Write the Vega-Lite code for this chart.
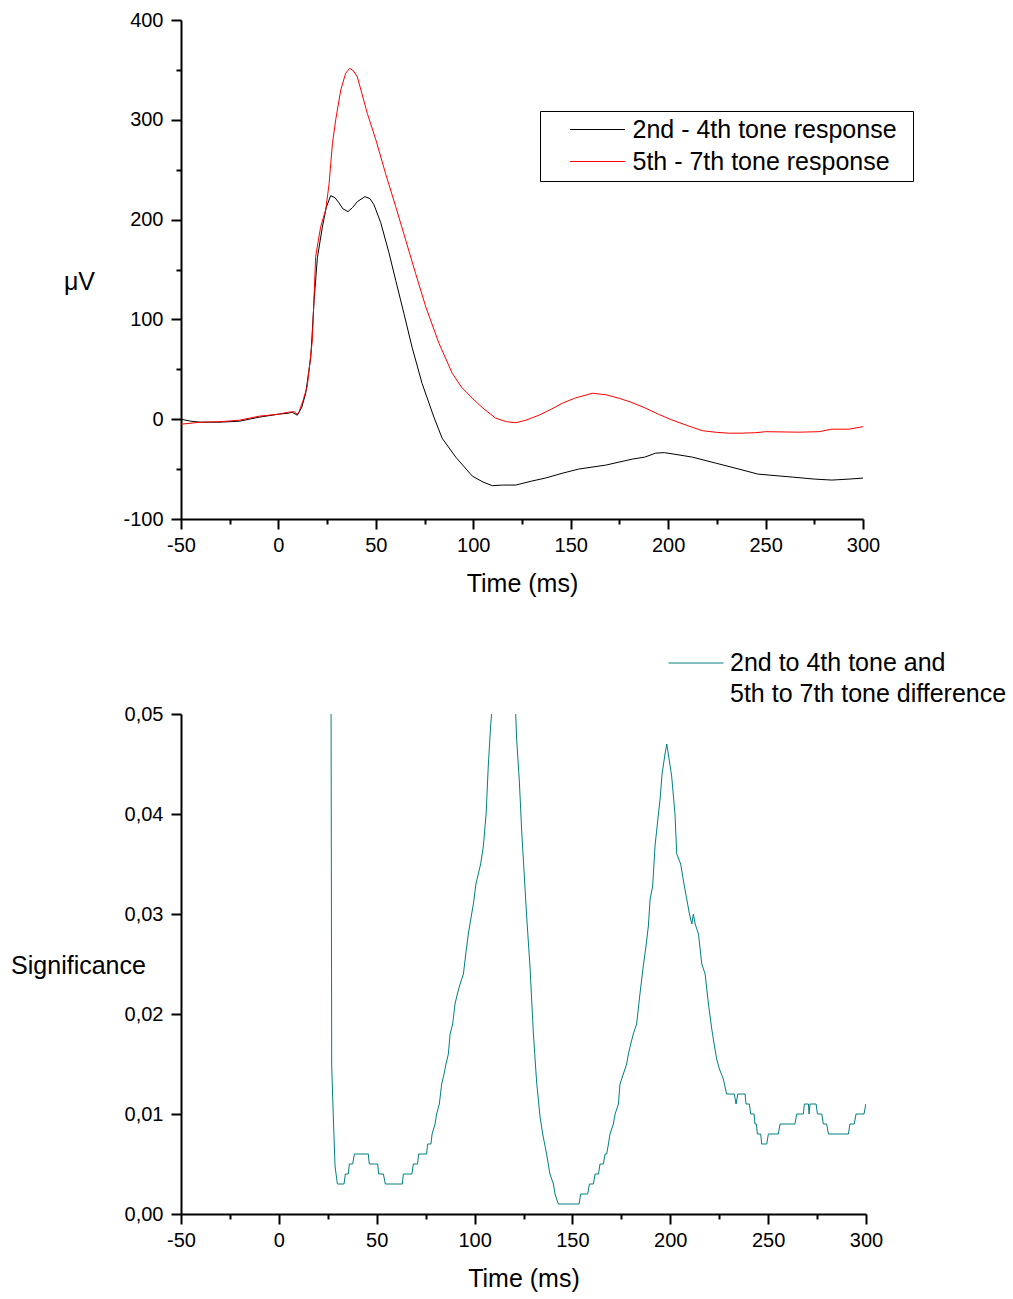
{
  "$schema": "https://vega.github.io/schema/vega-lite/v6.json",
  "padding": {"left": 10, "top": 10, "right": 5, "bottom": 5},
  "spacing": 39,
  "resolve": {"scale": {"color": "independent"}, "legend": {"color": "independent"}},
  "config": {
    "view": {"stroke": null},
    "font": "Liberation Sans",
    "axis": {"domainColor": "#000", "domainWidth": 2, "tickColor": "#000", "tickWidth": 2, "labelColor": "#000", "labelFontSize": 20, "labelFont": "Liberation Sans", "titleColor": "#000", "titleFontSize": 25, "titleFont": "Liberation Sans", "titleFontWeight": "normal", "grid": false, "labelFlush": false, "labelOverlap": false},
    "legend": {"labelFont": "Liberation Sans", "labelFontSize": 25, "labelColor": "#000"},
    "style": {"guide-label": {"lineHeight": 31}}
  },
  "vconcat": [
    {
      "width": 682,
      "height": 499,
      "data": {"values": [
        {"t": -50, "v": 0, "s": "2nd - 4th tone response"},
        {"t": -45, "v": -2, "s": "2nd - 4th tone response"},
        {"t": -40, "v": -3, "s": "2nd - 4th tone response"},
        {"t": -30, "v": -3, "s": "2nd - 4th tone response"},
        {"t": -20, "v": -2, "s": "2nd - 4th tone response"},
        {"t": -10, "v": 2, "s": "2nd - 4th tone response"},
        {"t": 0, "v": 5, "s": "2nd - 4th tone response"},
        {"t": 5, "v": 6, "s": "2nd - 4th tone response"},
        {"t": 7, "v": 7, "s": "2nd - 4th tone response"},
        {"t": 9.7, "v": 4, "s": "2nd - 4th tone response"},
        {"t": 12, "v": 12, "s": "2nd - 4th tone response"},
        {"t": 14, "v": 26, "s": "2nd - 4th tone response"},
        {"t": 16.6, "v": 62, "s": "2nd - 4th tone response"},
        {"t": 18.3, "v": 119, "s": "2nd - 4th tone response"},
        {"t": 20, "v": 162, "s": "2nd - 4th tone response"},
        {"t": 22.5, "v": 192, "s": "2nd - 4th tone response"},
        {"t": 24.5, "v": 212, "s": "2nd - 4th tone response"},
        {"t": 26.8, "v": 224, "s": "2nd - 4th tone response"},
        {"t": 29, "v": 222, "s": "2nd - 4th tone response"},
        {"t": 31, "v": 217, "s": "2nd - 4th tone response"},
        {"t": 33, "v": 211, "s": "2nd - 4th tone response"},
        {"t": 35.7, "v": 208, "s": "2nd - 4th tone response"},
        {"t": 38, "v": 212, "s": "2nd - 4th tone response"},
        {"t": 40.5, "v": 218, "s": "2nd - 4th tone response"},
        {"t": 44.4, "v": 223, "s": "2nd - 4th tone response"},
        {"t": 47, "v": 221, "s": "2nd - 4th tone response"},
        {"t": 49, "v": 215, "s": "2nd - 4th tone response"},
        {"t": 52.5, "v": 197, "s": "2nd - 4th tone response"},
        {"t": 56.7, "v": 167, "s": "2nd - 4th tone response"},
        {"t": 60.2, "v": 139, "s": "2nd - 4th tone response"},
        {"t": 64.4, "v": 106, "s": "2nd - 4th tone response"},
        {"t": 68.6, "v": 72, "s": "2nd - 4th tone response"},
        {"t": 73.7, "v": 36, "s": "2nd - 4th tone response"},
        {"t": 79.8, "v": 2, "s": "2nd - 4th tone response"},
        {"t": 84, "v": -19, "s": "2nd - 4th tone response"},
        {"t": 91, "v": -38, "s": "2nd - 4th tone response"},
        {"t": 99.5, "v": -57, "s": "2nd - 4th tone response"},
        {"t": 105, "v": -63, "s": "2nd - 4th tone response"},
        {"t": 109.8, "v": -66.6, "s": "2nd - 4th tone response"},
        {"t": 115, "v": -66, "s": "2nd - 4th tone response"},
        {"t": 121.8, "v": -66, "s": "2nd - 4th tone response"},
        {"t": 130, "v": -62, "s": "2nd - 4th tone response"},
        {"t": 137, "v": -59, "s": "2nd - 4th tone response"},
        {"t": 146, "v": -54, "s": "2nd - 4th tone response"},
        {"t": 154, "v": -50, "s": "2nd - 4th tone response"},
        {"t": 168, "v": -46, "s": "2nd - 4th tone response"},
        {"t": 181.6, "v": -40, "s": "2nd - 4th tone response"},
        {"t": 188, "v": -38, "s": "2nd - 4th tone response"},
        {"t": 193.6, "v": -34, "s": "2nd - 4th tone response"},
        {"t": 198, "v": -33.5, "s": "2nd - 4th tone response"},
        {"t": 203, "v": -35, "s": "2nd - 4th tone response"},
        {"t": 212.4, "v": -38, "s": "2nd - 4th tone response"},
        {"t": 224.4, "v": -44, "s": "2nd - 4th tone response"},
        {"t": 236.4, "v": -50, "s": "2nd - 4th tone response"},
        {"t": 246, "v": -55, "s": "2nd - 4th tone response"},
        {"t": 263.7, "v": -58, "s": "2nd - 4th tone response"},
        {"t": 275, "v": -60, "s": "2nd - 4th tone response"},
        {"t": 284, "v": -61, "s": "2nd - 4th tone response"},
        {"t": 292.8, "v": -60, "s": "2nd - 4th tone response"},
        {"t": 300, "v": -59, "s": "2nd - 4th tone response"},
        {"t": -50, "v": -5, "s": "5th - 7th tone response"},
        {"t": -40, "v": -3, "s": "5th - 7th tone response"},
        {"t": -30, "v": -2.5, "s": "5th - 7th tone response"},
        {"t": -20, "v": -1, "s": "5th - 7th tone response"},
        {"t": -10, "v": 3, "s": "5th - 7th tone response"},
        {"t": 0, "v": 5, "s": "5th - 7th tone response"},
        {"t": 5, "v": 7, "s": "5th - 7th tone response"},
        {"t": 8, "v": 7.5, "s": "5th - 7th tone response"},
        {"t": 9.7, "v": 5, "s": "5th - 7th tone response"},
        {"t": 10.6, "v": 7.5, "s": "5th - 7th tone response"},
        {"t": 12.5, "v": 18, "s": "5th - 7th tone response"},
        {"t": 14.8, "v": 33, "s": "5th - 7th tone response"},
        {"t": 17.4, "v": 79, "s": "5th - 7th tone response"},
        {"t": 19.1, "v": 163, "s": "5th - 7th tone response"},
        {"t": 21.7, "v": 193, "s": "5th - 7th tone response"},
        {"t": 24.3, "v": 210, "s": "5th - 7th tone response"},
        {"t": 26, "v": 236, "s": "5th - 7th tone response"},
        {"t": 27.7, "v": 276, "s": "5th - 7th tone response"},
        {"t": 29.4, "v": 300, "s": "5th - 7th tone response"},
        {"t": 32, "v": 330, "s": "5th - 7th tone response"},
        {"t": 34.5, "v": 346.6, "s": "5th - 7th tone response"},
        {"t": 36.6, "v": 351.6, "s": "5th - 7th tone response"},
        {"t": 38.5, "v": 349, "s": "5th - 7th tone response"},
        {"t": 40.5, "v": 343, "s": "5th - 7th tone response"},
        {"t": 45.6, "v": 306.5, "s": "5th - 7th tone response"},
        {"t": 50, "v": 280, "s": "5th - 7th tone response"},
        {"t": 55, "v": 246, "s": "5th - 7th tone response"},
        {"t": 60.2, "v": 213, "s": "5th - 7th tone response"},
        {"t": 65.3, "v": 179.6, "s": "5th - 7th tone response"},
        {"t": 70.4, "v": 146, "s": "5th - 7th tone response"},
        {"t": 75.6, "v": 112.7, "s": "5th - 7th tone response"},
        {"t": 82.4, "v": 76, "s": "5th - 7th tone response"},
        {"t": 89.2, "v": 46, "s": "5th - 7th tone response"},
        {"t": 94, "v": 32, "s": "5th - 7th tone response"},
        {"t": 99.5, "v": 21, "s": "5th - 7th tone response"},
        {"t": 105, "v": 11, "s": "5th - 7th tone response"},
        {"t": 111.5, "v": 1, "s": "5th - 7th tone response"},
        {"t": 117, "v": -2.5, "s": "5th - 7th tone response"},
        {"t": 121.8, "v": -3.5, "s": "5th - 7th tone response"},
        {"t": 127, "v": -1, "s": "5th - 7th tone response"},
        {"t": 133.7, "v": 4, "s": "5th - 7th tone response"},
        {"t": 140, "v": 10, "s": "5th - 7th tone response"},
        {"t": 145.7, "v": 16, "s": "5th - 7th tone response"},
        {"t": 152, "v": 21, "s": "5th - 7th tone response"},
        {"t": 161, "v": 26, "s": "5th - 7th tone response"},
        {"t": 168, "v": 24.5, "s": "5th - 7th tone response"},
        {"t": 174.8, "v": 21, "s": "5th - 7th tone response"},
        {"t": 181, "v": 17, "s": "5th - 7th tone response"},
        {"t": 188.5, "v": 11, "s": "5th - 7th tone response"},
        {"t": 195, "v": 5, "s": "5th - 7th tone response"},
        {"t": 202, "v": -0.8, "s": "5th - 7th tone response"},
        {"t": 210, "v": -6.5, "s": "5th - 7th tone response"},
        {"t": 217.5, "v": -11.5, "s": "5th - 7th tone response"},
        {"t": 224, "v": -13, "s": "5th - 7th tone response"},
        {"t": 231, "v": -14, "s": "5th - 7th tone response"},
        {"t": 238, "v": -14, "s": "5th - 7th tone response"},
        {"t": 245, "v": -13.5, "s": "5th - 7th tone response"},
        {"t": 250, "v": -12.5, "s": "5th - 7th tone response"},
        {"t": 267, "v": -13, "s": "5th - 7th tone response"},
        {"t": 277.4, "v": -12.5, "s": "5th - 7th tone response"},
        {"t": 284, "v": -10, "s": "5th - 7th tone response"},
        {"t": 292.8, "v": -10, "s": "5th - 7th tone response"},
        {"t": 300, "v": -7.5, "s": "5th - 7th tone response"}
      ]},
      "mark": {"type": "line", "strokeWidth": 1},
      "encoding": {
        "x": {"field": "t", "type": "quantitative", "scale": {"domain": [-50, 300], "nice": false, "zero": false},
          "axis": {"values": [-50, -25, 0, 25, 50, 75, 100, 125, 150, 175, 200, 225, 250, 275, 300],
            "labelExpr": "datum.value % 50 === 0 ? '' + datum.value : ''",
            "tickSize": {"condition": {"test": "datum.value % 50 !== 0", "value": 5}, "value": 10},
            "title": "Time (ms)", "labelPadding": 6, "titlePadding": 16}},
        "y": {"field": "v", "type": "quantitative", "scale": {"domain": [-100, 400], "nice": false, "zero": false},
          "axis": {"values": [-100, -50, 0, 50, 100, 150, 200, 250, 300, 350, 400],
            "labelExpr": "datum.value % 100 === 0 ? '' + datum.value : ''",
            "tickSize": {"condition": {"test": "datum.value % 100 !== 0", "value": 5}, "value": 10},
            "title": "μV", "titleAngle": 0, "titleX": -102, "titleY": 261, "titleAlign": "center", "titleBaseline": "middle", "labelPadding": 8}},
        "color": {"field": "s", "type": "nominal",
          "scale": {"domain": ["2nd - 4th tone response", "5th - 7th tone response"], "range": ["#000000", "#ff0000"]},
          "legend": {"title": null, "orient": "none", "legendX": 359, "legendY": 91, "symbolType": "M0,0H11M67,0", "symbolSize": 100, "symbolStrokeWidth": 1, "padding": 6, "strokeColor": "#000", "symbolOffset": 11.5, "labelOffset": 50, "rowPadding": 6, "labelLimit": 500}}
      }
    },
    {
      "width": 685,
      "height": 500,
      "data": {"values": [
        {"t": 26.5, "p": 0.07}, {"t": 27.0, "p": 0.0148}, {"t": 27.8, "p": 0.0098}, {"t": 28.7, "p": 0.0048},
        {"t": 29.9, "p": 0.003}, {"t": 33.3, "p": 0.003}, {"t": 34.0, "p": 0.004}, {"t": 35.5, "p": 0.004},
        {"t": 36.0, "p": 0.005}, {"t": 37.7, "p": 0.005}, {"t": 38.6, "p": 0.006}, {"t": 45.7, "p": 0.006},
        {"t": 46.2, "p": 0.005}, {"t": 50.5, "p": 0.005}, {"t": 51.0, "p": 0.004}, {"t": 53.4, "p": 0.004},
        {"t": 54.4, "p": 0.003}, {"t": 63.1, "p": 0.003}, {"t": 63.6, "p": 0.004}, {"t": 68.0, "p": 0.004},
        {"t": 68.7, "p": 0.005}, {"t": 70.9, "p": 0.005}, {"t": 71.4, "p": 0.006}, {"t": 75.5, "p": 0.006},
        {"t": 76.0, "p": 0.007}, {"t": 77.7, "p": 0.007}, {"t": 78.3, "p": 0.008}, {"t": 79.8, "p": 0.009},
        {"t": 80.6, "p": 0.010}, {"t": 82.0, "p": 0.011}, {"t": 83.2, "p": 0.013}, {"t": 84.4, "p": 0.014},
        {"t": 85.4, "p": 0.015}, {"t": 86.6, "p": 0.016}, {"t": 87.5, "p": 0.018}, {"t": 88.8, "p": 0.019},
        {"t": 90.0, "p": 0.021}, {"t": 91.2, "p": 0.022}, {"t": 92.6, "p": 0.023}, {"t": 94.3, "p": 0.024},
        {"t": 95.5, "p": 0.026}, {"t": 96.8, "p": 0.028}, {"t": 98.5, "p": 0.030}, {"t": 99.4, "p": 0.031},
        {"t": 100.7, "p": 0.033}, {"t": 101.9, "p": 0.034}, {"t": 103.1, "p": 0.035}, {"t": 104.5, "p": 0.0368},
        {"t": 105.9, "p": 0.040}, {"t": 107.0, "p": 0.0448}, {"t": 108.2, "p": 0.0488}, {"t": 109.3, "p": 0.0515},
        {"t": 115.0, "p": 0.065}, {"t": 120.7, "p": 0.0515}, {"t": 121.5, "p": 0.0475}, {"t": 122.9, "p": 0.0432},
        {"t": 124.1, "p": 0.0382}, {"t": 125.3, "p": 0.0342}, {"t": 126.6, "p": 0.0298}, {"t": 128.3, "p": 0.0248},
        {"t": 130.0, "p": 0.0182}, {"t": 131.7, "p": 0.0132}, {"t": 133.4, "p": 0.0098}, {"t": 134.8, "p": 0.008},
        {"t": 136.8, "p": 0.006}, {"t": 138.5, "p": 0.004}, {"t": 140.3, "p": 0.003}, {"t": 141.1, "p": 0.002},
        {"t": 142.8, "p": 0.001}, {"t": 153.4, "p": 0.001}, {"t": 154.2, "p": 0.002}, {"t": 157.8, "p": 0.002},
        {"t": 158.7, "p": 0.003}, {"t": 160.7, "p": 0.003}, {"t": 161.6, "p": 0.004}, {"t": 163.3, "p": 0.004},
        {"t": 164.1, "p": 0.005}, {"t": 165.8, "p": 0.005}, {"t": 166.7, "p": 0.006}, {"t": 167.5, "p": 0.006},
        {"t": 168.4, "p": 0.007}, {"t": 169.2, "p": 0.008}, {"t": 170.9, "p": 0.009}, {"t": 171.8, "p": 0.010},
        {"t": 173.5, "p": 0.011}, {"t": 174.3, "p": 0.013}, {"t": 176.0, "p": 0.014}, {"t": 177.7, "p": 0.015},
        {"t": 178.6, "p": 0.016}, {"t": 179.8, "p": 0.017}, {"t": 181.1, "p": 0.018}, {"t": 182.8, "p": 0.019},
        {"t": 184.5, "p": 0.022}, {"t": 186.2, "p": 0.0248}, {"t": 187.6, "p": 0.0268}, {"t": 188.8, "p": 0.0288},
        {"t": 189.7, "p": 0.0315}, {"t": 191.0, "p": 0.0328}, {"t": 192.2, "p": 0.0368}, {"t": 193.4, "p": 0.039},
        {"t": 194.8, "p": 0.0415}, {"t": 195.8, "p": 0.044}, {"t": 197.3, "p": 0.046}, {"t": 198.2, "p": 0.047},
        {"t": 199.0, "p": 0.046}, {"t": 200.7, "p": 0.0438}, {"t": 202.4, "p": 0.040}, {"t": 203.3, "p": 0.036},
        {"t": 205.3, "p": 0.035}, {"t": 207.0, "p": 0.033}, {"t": 208.4, "p": 0.0315}, {"t": 209.8, "p": 0.030},
        {"t": 211.0, "p": 0.029}, {"t": 211.8, "p": 0.030}, {"t": 212.7, "p": 0.029}, {"t": 214.4, "p": 0.028},
        {"t": 216.1, "p": 0.025}, {"t": 217.8, "p": 0.024}, {"t": 219.5, "p": 0.021}, {"t": 221.2, "p": 0.0185},
        {"t": 222.4, "p": 0.017}, {"t": 223.7, "p": 0.0155}, {"t": 225.1, "p": 0.0145}, {"t": 227.1, "p": 0.0135},
        {"t": 228.8, "p": 0.012}, {"t": 232.7, "p": 0.012}, {"t": 233.6, "p": 0.011}, {"t": 234.5, "p": 0.012},
        {"t": 238.2, "p": 0.012}, {"t": 238.7, "p": 0.011}, {"t": 240.4, "p": 0.011}, {"t": 241.1, "p": 0.010},
        {"t": 242.8, "p": 0.010}, {"t": 243.3, "p": 0.009}, {"t": 244.0, "p": 0.009}, {"t": 244.5, "p": 0.008},
        {"t": 246.2, "p": 0.008}, {"t": 246.7, "p": 0.007}, {"t": 249.3, "p": 0.007}, {"t": 250.1, "p": 0.008},
        {"t": 255.2, "p": 0.008}, {"t": 256.1, "p": 0.009}, {"t": 263.7, "p": 0.009}, {"t": 264.6, "p": 0.010},
        {"t": 268.0, "p": 0.010}, {"t": 268.5, "p": 0.011}, {"t": 270.6, "p": 0.011}, {"t": 270.9, "p": 0.010},
        {"t": 271.4, "p": 0.011}, {"t": 274.5, "p": 0.011}, {"t": 275.2, "p": 0.010}, {"t": 277.4, "p": 0.010},
        {"t": 278.2, "p": 0.009}, {"t": 279.9, "p": 0.009}, {"t": 280.8, "p": 0.008}, {"t": 291.0, "p": 0.008},
        {"t": 291.8, "p": 0.009}, {"t": 294.0, "p": 0.009}, {"t": 294.9, "p": 0.010}, {"t": 299.0, "p": 0.010},
        {"t": 299.9, "p": 0.011}
      ]},
      "mark": {"type": "line", "strokeWidth": 1, "clip": true},
      "encoding": {
        "x": {"field": "t", "type": "quantitative", "scale": {"domain": [-50, 300], "nice": false, "zero": false},
          "axis": {"values": [-50, -25, 0, 25, 50, 75, 100, 125, 150, 175, 200, 225, 250, 275, 300],
            "labelExpr": "datum.value % 50 === 0 ? '' + datum.value : ''",
            "tickSize": {"condition": {"test": "datum.value % 50 !== 0", "value": 5}, "value": 10},
            "title": "Time (ms)", "labelPadding": 6, "titlePadding": 16}},
        "y": {"field": "p", "type": "quantitative", "scale": {"domain": [0, 0.05], "nice": false, "zero": false},
          "axis": {"values": [0, 0.01, 0.02, 0.03, 0.04, 0.05],
            "labelExpr": "replace(format(datum.value, '.2f'), '.', ',')",
            "tickSize": 10,
            "title": "Significance", "titleAngle": 0, "titleX": -103, "titleY": 251, "titleAlign": "center", "titleBaseline": "middle", "labelPadding": 8}},
        "color": {"datum": "2nd to 4th tone and 5th to 7th tone difference", "type": "nominal",
          "scale": {"range": ["#008080"]},
          "legend": {"title": null, "orient": "none", "legendX": 487, "legendY": -79, "symbolType": "stroke", "symbolSize": 3025, "symbolStrokeWidth": 1, "padding": 0, "labelOffset": 6, "labelLimit": 500,
            "labelExpr": "['2nd to 4th tone and', '5th to 7th tone difference']"}}
      }
    }
  ]
}
